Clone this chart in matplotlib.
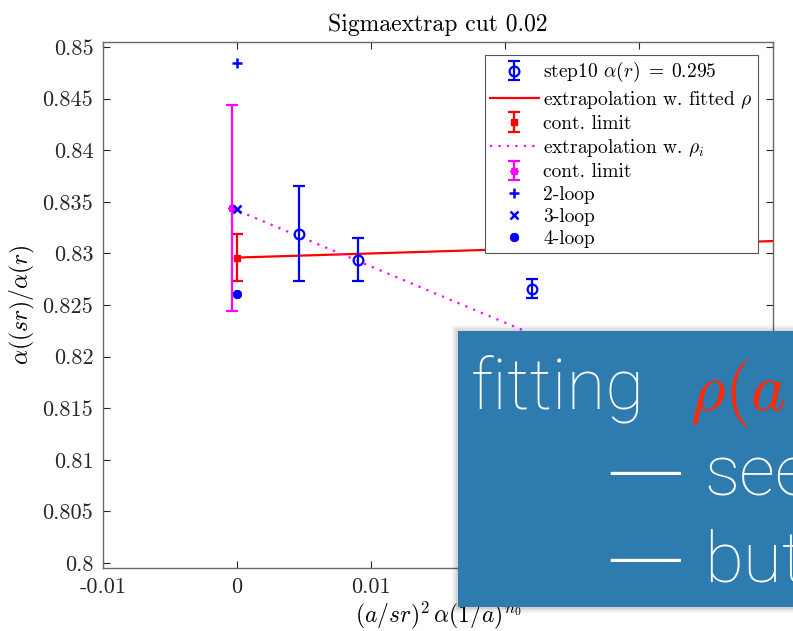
import matplotlib
matplotlib.use("Agg")
import matplotlib.pyplot as plt
from matplotlib.patches import Rectangle
from matplotlib.legend_handler import HandlerTuple

plt.rcParams['font.family'] = 'serif'
plt.rcParams['font.serif'] = ['cmr10', 'DejaVu Serif']
plt.rcParams['mathtext.fontset'] = 'cm'
plt.rcParams['axes.unicode_minus'] = False
plt.rcParams['axes.formatter.use_mathtext'] = True

# ---- data ----
step_x = [0.0046, 0.0090, 0.0220]
step_y = [0.8319, 0.8294, 0.8266]
step_err = [0.0046, 0.0021, 0.0009]

fit_line_x = [0.0, 0.04]
fit_line_y = [0.8296, 0.8312]
fit_cl_x = [0.0]
fit_cl_y = [0.8296]
fit_cl_err = [0.0023]

rhoi_line_x = [-0.0004, 0.04]
rhoi_line_y = [0.8344, 0.8124]
rhoi_cl_x = [-0.0004]
rhoi_cl_y = [0.8344]
rhoi_cl_err = [0.0100]

loop2_x, loop2_y = [0.0], [0.8485]
loop3_x, loop3_y = [0.0], [0.8343]
loop4_x, loop4_y = [0.0], [0.8261]

xticks = [-0.01, 0, 0.01, 0.02, 0.03, 0.04]
xticklabels = ['-0.01', '0', '0.01', '0.02', '0.03', '0.04']
yticks = [0.8, 0.805, 0.81, 0.815, 0.82, 0.825, 0.83, 0.835, 0.84, 0.845, 0.85]
yticklabels = ['0.8', '0.805', '0.81', '0.815', '0.82', '0.825', '0.83', '0.835', '0.84', '0.845', '0.85']

fig = plt.figure(figsize=(7.93, 6.31), dpi=100)
ax = fig.add_axes([0.1299, 0.0998, 0.845, 0.834])

blue, red, mag = '#0000ff', '#ff0000', '#ff00ff'
ast = (8, 2, 0)

h1 = ax.errorbar(step_x, step_y, yerr=step_err, fmt='o', color=blue, mfc='none',
                 mec=blue, ms=7, mew=1.6, elinewidth=1.6, capsize=4, capthick=1.6, zorder=4)
h2, = ax.plot(fit_line_x, fit_line_y, '-', color=red, lw=1.6, zorder=3)
h3 = ax.errorbar(fit_cl_x, fit_cl_y, yerr=fit_cl_err, fmt='s', color=red, ms=4.5,
                 elinewidth=1.6, capsize=4, capthick=1.6, zorder=4)
h4, = ax.plot(rhoi_line_x, rhoi_line_y, linestyle=(0, (1, 2.8)), color=mag, lw=1.6, zorder=3)
h5 = ax.errorbar(rhoi_cl_x, rhoi_cl_y, yerr=rhoi_cl_err, fmt='none', ecolor=mag,
                 elinewidth=1.6, capsize=4, capthick=1.6, zorder=4)
h5m, = ax.plot(rhoi_cl_x, rhoi_cl_y, linestyle='none', marker=ast, color=mag, ms=6,
               mew=1.3, zorder=4)
h6, = ax.plot(loop2_x, loop2_y, '+', color=blue, ms=7, mew=1.8, zorder=5)
h7, = ax.plot(loop3_x, loop3_y, 'x', color=blue, ms=5.5, mew=1.8, zorder=5)
h8, = ax.plot(loop4_x, loop4_y, linestyle='none', marker=ast, color=blue, ms=6.5, mew=2.0,
              zorder=5)

ax.set_xlim(-0.01, 0.04)
ax.set_ylim(0.79952, 0.85051)
ax.set_xticks(xticks)
ax.set_xticklabels(xticklabels)
ax.set_yticks(yticks)
ax.set_yticklabels(yticklabels)
ax.tick_params(direction='in', top=True, right=True, length=5, width=0.8,
               labelsize=16, colors='#262626', pad=7)
for sp in ax.spines.values():
    sp.set_color('#6a6a6a')
    sp.set_linewidth(1.0)

ax.set_title('Sigmaextrap cut 0.02', fontsize=17, pad=8)
ax.set_xlabel(r'$(a/sr)^2\,\alpha(1/a)^{n_0}$', fontsize=17, labelpad=2)
ax.set_ylabel(r'$\alpha((sr)/\alpha(r)$', fontsize=17, labelpad=4)

handles = [h1, h2, h3, h4, (h5, h5m), h6, h7, h8]
labels = [r'step10 $\alpha(r)\;=\;0.295$', r'extrapolation w. fitted $\rho$', 'cont. limit',
          r'extrapolation w. $\rho_i$', 'cont. limit', '2-loop', '3-loop', '4-loop']
leg = ax.legend(handles, labels, loc='upper right',
                bbox_to_anchor=(0.977, 0.974), fontsize=14, frameon=True,
                fancybox=False, edgecolor='#555555', framealpha=1,
                labelspacing=0.22, handlelength=2.5, handletextpad=0.25,
                borderpad=0.25, borderaxespad=0,
                handler_map={tuple: HandlerTuple(ndivide=1, pad=0)})
leg.get_frame().set_linewidth(0.8)
leg.set_zorder(10)

# ---- slide overlay box ----
bx0, by0, bh = 458 / 793, 24 / 631, 276 / 631
for i, a in enumerate([0.06, 0.05, 0.04, 0.03]):
    d = (i + 1) * 1.5
    fig.patches.append(Rectangle((bx0 - d / 793, by0 - d / 631), 1.0, bh + 2 * d / 631,
                                 transform=fig.transFigure, facecolor='black',
                                 alpha=a, edgecolor='none', zorder=20))
fig.patches.append(Rectangle((bx0, by0), 1.0, bh, transform=fig.transFigure,
                             facecolor='#2e7bb0', edgecolor='none', zorder=21))

sans = ['Roboto', 'DejaVu Sans']
fig.text(471 / 793, (631 - 410) / 631, 'fitting', color='white', fontsize=51,
         family=sans, fontweight='light', va='baseline', zorder=22)
fig.text(690 / 793, (631 - 410) / 631, r'$\rho(a$', color='#ff2a00', fontsize=48,
         va='baseline', zorder=22)
for base, word in [(495, 'see'), (582, 'but')]:
    fig.text(606 / 793, (631 - base) / 631, '—', color='white', fontsize=56,
             family=['DejaVu Sans'], fontweight='light', va='baseline', zorder=22)
    fig.text(704 / 793, (631 - base) / 631, word, color='white', fontsize=51,
             family=sans, fontweight='light', va='baseline', zorder=22)

fig.savefig('out.png', dpi=100)
